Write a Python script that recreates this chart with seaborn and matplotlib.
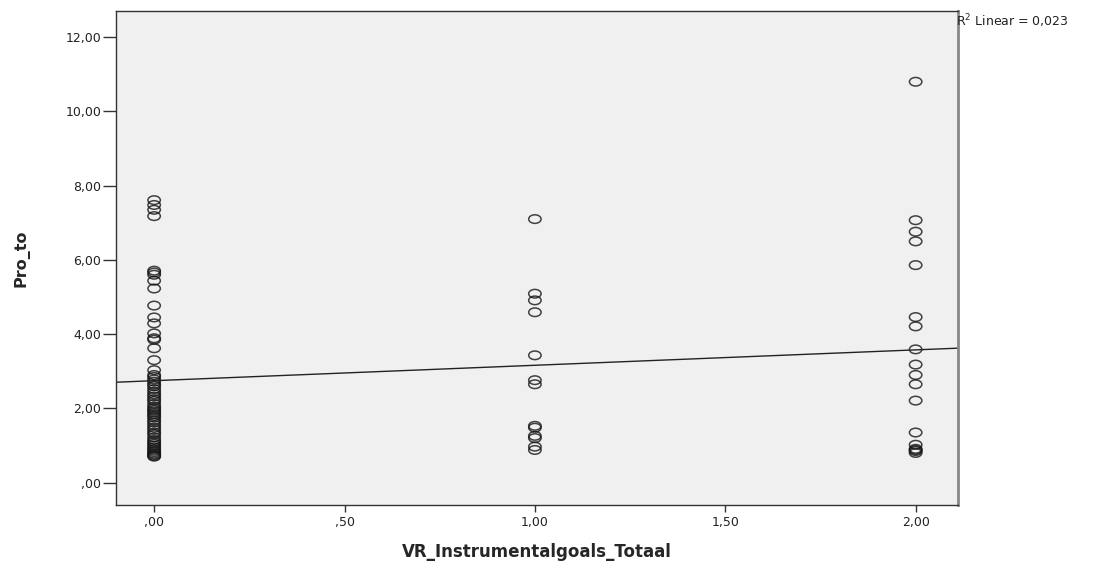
"""Scatter of Pro_to against VR_Instrumentalgoals_Totaal with a linear fit line."""

import numpy as np
import pandas as pd
import matplotlib

matplotlib.use("Agg")
import matplotlib.pyplot as plt
from matplotlib.path import Path
from matplotlib.transforms import Affine2D
from matplotlib.ticker import FuncFormatter
import seaborn as sns

# Values
pro_to_0 = [7.61, 7.48, 7.35, 7.18, 5.71, 5.66, 5.60, 5.44, 5.23, 4.77,
            4.45, 4.29, 4.02, 3.89, 3.85, 3.62, 3.30, 3.03,
            2.90, 2.85, 2.78, 2.72, 2.65, 2.60, 2.52, 2.45, 2.38, 2.32,
            2.25, 2.20, 2.12, 2.05, 2.00, 1.95, 1.90, 1.85, 1.80, 1.75,
            1.68, 1.62, 1.55, 1.48, 1.42, 1.35, 1.30, 1.22, 1.15, 1.10,
            1.05, 1.00, 0.95, 0.90, 0.86, 0.82, 0.78, 0.75, 0.72, 0.70]
pro_to_1 = [7.10, 5.09, 4.91, 4.59, 3.43, 2.76, 2.65, 1.53, 1.48, 1.26,
            1.20, 0.97, 0.88]
pro_to_2 = [10.80, 7.07, 6.76, 6.50, 5.86, 4.46, 4.21, 3.59, 3.18, 2.90,
            2.65, 2.21, 1.35, 1.02, 0.91, 0.88, 0.85, 0.80]
x_levels = [0.0, 1.0, 2.0]

x_ticks = [0.0, 0.5, 1.0, 1.5, 2.0]
y_ticks = [0, 2, 4, 6, 8, 10, 12]
r2_label = "R$^2$ Linear = 0,023"

df = pd.DataFrame({
    "VR_Instrumentalgoals_Totaal": np.repeat(
        x_levels, [len(pro_to_0), len(pro_to_1), len(pro_to_2)]),
    "Pro_to": pro_to_0 + pro_to_1 + pro_to_2,
})


def comma_fmt(v, _pos):
    s = f"{v:.2f}".replace(".", ",")
    return s[1:] if s.startswith("0,") else s


sns.set_style("ticks")
plt.rcParams["font.family"] = ["DejaVu Sans"]

fig = plt.figure(figsize=(11.16, 5.61), dpi=100)
ax = fig.add_axes([0.104, 0.100, 0.754, 0.880])
ax.set_facecolor("#f0f0f0")
ax.set_xlim(-0.10, 2.11)
ax.set_ylim(-0.60, 12.70)

# wide open circle, as in the stretched SPSS output
ellipse = Path.unit_circle().transformed(Affine2D().scale(1.45, 1.0))

sns.regplot(data=df, x="VR_Instrumentalgoals_Totaal", y="Pro_to", ax=ax,
            ci=None, truncate=False,
            marker=ellipse,
            scatter_kws={"s": 80, "facecolors": "none", "edgecolors": "#151515",
                         "linewidths": 1.1},
            line_kws={"color": "#222222", "linewidth": 1.0})

ax.set_xticks(x_ticks)
ax.set_yticks(y_ticks)
ax.xaxis.set_major_formatter(FuncFormatter(comma_fmt))
ax.yaxis.set_major_formatter(FuncFormatter(comma_fmt))
ax.tick_params(direction="out", width=1, color="#333333",
               labelsize=9, labelcolor="#222222")
ax.tick_params(axis="y", length=9.5, pad=1)
ax.tick_params(axis="x", length=5, pad=3)

for side in ("left", "bottom", "top"):
    ax.spines[side].set_color("#333333")
    ax.spines[side].set_linewidth(1.0)
ax.spines["right"].set_color("#888888")
ax.spines["right"].set_linewidth(2.0)

ax.set_xlabel("VR_Instrumentalgoals_Totaal", fontsize=12, fontweight="bold",
              labelpad=10)
ax.set_ylabel("Pro_to", fontsize=11.5, fontweight="bold", labelpad=26)

fig.text(0.857, 0.962, r2_label, fontsize=9, color="#222222",
         ha="left", va="center")

fig.savefig("out.png", dpi=100)
plt.close(fig)
